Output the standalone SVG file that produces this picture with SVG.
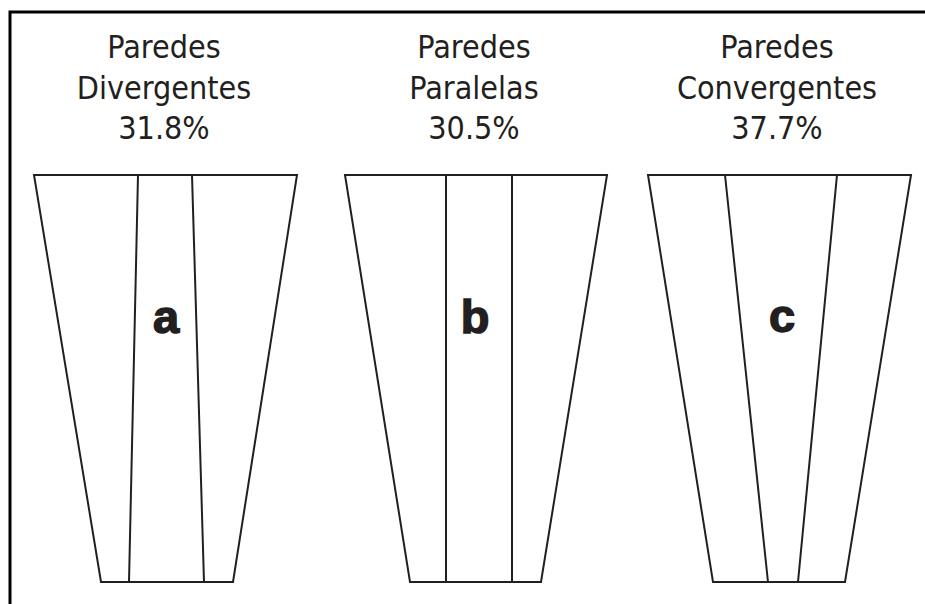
<svg xmlns="http://www.w3.org/2000/svg" width="925" height="604" viewBox="0 0 925 604">
<style>
.t{font-family:"DejaVu Sans Condensed","DejaVu Sans",sans-serif;font-stretch:condensed;font-size:32px;fill:#231f20;text-anchor:middle}
.l{font-family:"Liberation Sans",Arial,sans-serif;font-weight:bold;font-size:47px;fill:#231f20;text-anchor:middle;stroke:#231f20;stroke-width:1.5}
.s{fill:none;stroke:#231f20;stroke-width:2;stroke-linejoin:miter}
</style>
<rect width="925" height="604" fill="#fff"/>
<path d="M10,610 V12 H930" fill="none" stroke="#000" stroke-width="3"/>
<g id="a">
<text class="t" x="164" y="58">Paredes</text>
<text class="t" x="164" y="99">Divergentes</text>
<text class="t" x="164" y="139">31.8%</text>
<path class="s" d="M34,175 H297 L233,582 H101 Z"/>
<path class="s" d="M138,175 L129,582 M192,175 L204,582"/>
<text class="l" x="166" y="333">a</text>
</g>
<g id="b">
<text class="t" x="474" y="58">Paredes</text>
<text class="t" x="474" y="99">Paralelas</text>
<text class="t" x="474" y="139">30.5%</text>
<path class="s" d="M345,175 H607 L541,582 H410 Z"/>
<path class="s" d="M446,175 V582 M512,175 V582"/>
<text class="l" x="475" y="333">b</text>
</g>
<g id="c">
<text class="t" x="777" y="58">Paredes</text>
<text class="t" x="777" y="99">Convergentes</text>
<text class="t" x="777" y="139">37.7%</text>
<path class="s" d="M648,175 H911 L845,582 H713 Z"/>
<path class="s" d="M725,175 L768,582 M837,175 L798,582"/>
<text class="l" x="782" y="332">c</text>
</g>
<g id="connectors"/>
</svg>
